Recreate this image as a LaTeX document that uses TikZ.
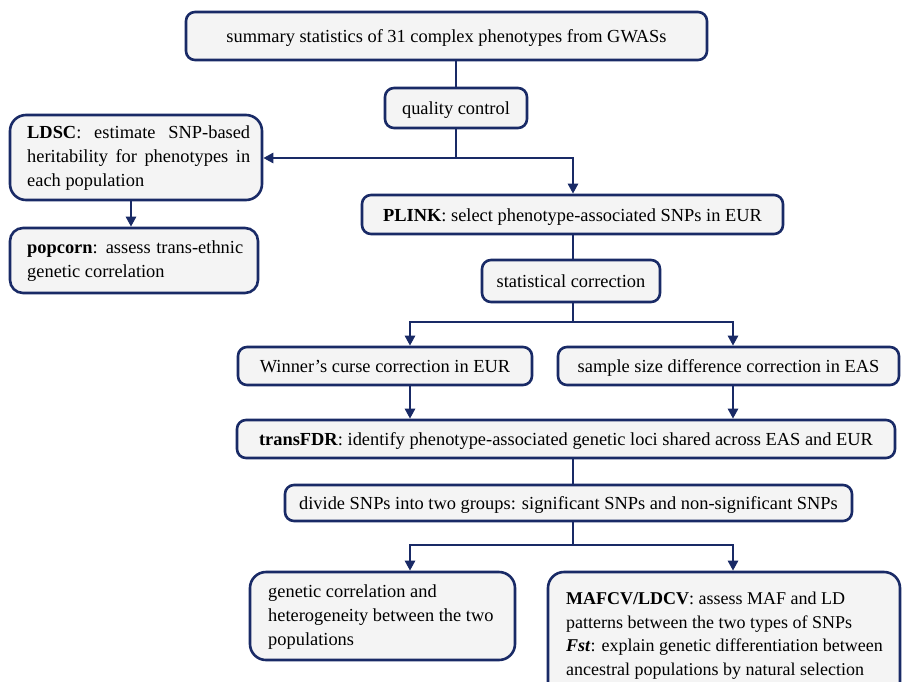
\documentclass[tikz,border=0pt]{standalone}
\usepackage{fontspec}
\setmainfont{Liberation Serif}
\usetikzlibrary{arrows.meta}
\definecolor{navy}{RGB}{25,42,102}
\definecolor{boxfill}{RGB}{244,244,244}
\setlength\parindent{0pt}
\begin{document}
\begin{tikzpicture}[x=1pt,y=-1pt,
  box/.style={draw=navy, fill=boxfill, line width=2.6pt, rounded corners=9pt, inner sep=0pt,
    text height=13pt, text depth=0pt,
    font=\fontsize{18.4}{24}\selectfont},
  bigbox/.style={box, rounded corners=16pt},
  txt/.style={inner sep=0pt, font=\fontsize{18.4}{24}\selectfont},
  conn/.style={draw=navy, line width=2.6pt},
  arr/.style={conn, -{Triangle[length=10pt,width=10pt]}},
]
\clip (0,0) rectangle (903,681);
\fill[white] (0,0) rectangle (903,681);

% boxes
\node[box, minimum width=521pt, minimum height=48pt] (top) at (446.5,36) {summary statistics of 31 complex phenotypes from GWASs};
\node[box, minimum width=142pt, minimum height=40pt] (qc) at (456,108) {quality control};
\node[bigbox, minimum width=252pt, minimum height=85pt] (ldsc) at (136,157.5) {};
\node[txt, text width=223pt, align=justify, anchor=west] (ldsct) at (27,158)
  {\textbf{LDSC}: estimate SNP-based\linebreak heritability for phenotypes in\linebreak each population};
\node[box, rounded corners=13pt, minimum width=248pt, minimum height=65pt] (pop) at (134,260.5) {};
\node[txt, text width=216pt, align=justify, anchor=west] (popt) at (27,261)
  {\textbf{popcorn}: assess trans-ethnic\linebreak genetic correlation};
\node[box, minimum width=421pt, minimum height=39pt] (plink) at (572.5,214.5) {\textbf{PLINK}: select phenotype-associated SNPs in EUR};
\node[box, minimum width=178pt, minimum height=42pt] (stat) at (571,281) {statistical correction};
\node[box, minimum width=294pt, minimum height=38pt] (win) at (385,366) {Winner’s curse correction in EUR};
\node[box, minimum width=341pt, minimum height=38pt] (samp) at (728.5,366) {sample size difference correction in EAS};
\node[box, minimum width=658pt, minimum height=38pt] (tfdr) at (566,439) {\textbf{transFDR}: identify phenotype-associated genetic loci shared across EAS and EUR};
\node[box, minimum width=567pt, minimum height=36pt] (div) at (568.5,503) {divide SNPs into two groups: significant SNPs and non-significant SNPs};
\node[bigbox, minimum width=265pt, minimum height=88pt] (bl) at (382.5,616) {};
\node[txt, align=left, anchor=west] (blt) at (268,617)
  {genetic correlation and\\heterogeneity between the two\\populations};
\node[bigbox, minimum width=352pt, minimum height=128pt] (br) at (724,636) {};
\node[txt, align=left, anchor=west, font=\fontsize{18}{23.6}\selectfont] (brt) at (566,635.5)
  {\textbf{MAFCV/LDCV}: assess MAF and LD\\patterns between the two types of SNPs\\\textbf{\textit{Fst}}: explain genetic differentiation between\\ancestral populations by natural selection};

% connectors
\coordinate (j1) at (456,158);
\coordinate (j2) at (573,322);
\coordinate (j3) at (573,545);
\draw[conn] (qc.north) -- (qc.north |- top.south);
\draw[conn] (qc.south) -- (j1);
\draw[arr] (j1) -- (ldsc.east |- j1);
\draw[arr] (j1) -| ([xshift=0.5pt]plink.north);
\draw[arr] ([xshift=-5pt]ldsc.south) -- ([xshift=-5pt]ldsc.south |- pop.north);
\draw[conn] ([xshift=0.5pt]plink.south) -- ([xshift=0.5pt]plink.south |- stat.north);
\draw[conn] ([xshift=2pt]stat.south) -- (j2);
\draw[arr] (j2) -| ([xshift=25pt]win.north);
\draw[arr] (j2) -| ([xshift=4.5pt]samp.north);
\draw[arr] ([xshift=25pt]win.south) -- ([xshift=25pt]win.south |- tfdr.north);
\draw[arr] ([xshift=4.5pt]samp.south) -- ([xshift=4.5pt]samp.south |- tfdr.north);
\draw[conn] ([xshift=7pt]tfdr.south) -- ([xshift=7pt]tfdr.south |- div.north);
\draw[conn] ([xshift=4.5pt]div.south) -- (j3);
\draw[arr] (j3) -| ([xshift=27.5pt]bl.north);
\draw[arr] (j3) -| ([xshift=9pt]br.north);
\end{tikzpicture}
\end{document}
